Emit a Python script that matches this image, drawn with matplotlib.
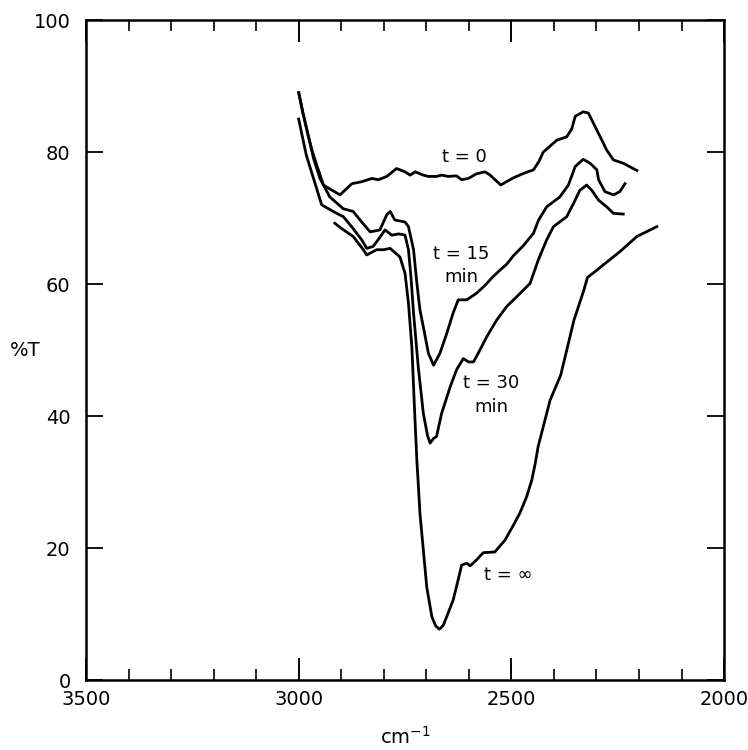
import matplotlib
matplotlib.use("Agg")
import matplotlib.pyplot as plt
from matplotlib.ticker import MultipleLocator
from matplotlib import font_manager

# ---- data ----
t0_x = [3000, 2990, 2978, 2969, 2959, 2942, 2903, 2875, 2852, 2828, 2813, 2793, 2770, 2750, 2738, 2726, 2707,
        2695, 2676, 2664, 2648, 2629, 2617, 2601, 2582, 2562, 2550, 2525, 2495, 2470, 2448, 2435, 2425, 2393,
        2370, 2358, 2350, 2331, 2319, 2299, 2285, 2276, 2260, 2237, 2205]
t0_y = [89.0, 85.9, 82.6, 80.3, 78.3, 75.0, 73.5, 75.2, 75.5, 76.0, 75.8, 76.3, 77.5, 77.0, 76.5, 77.0, 76.5,
        76.3, 76.3, 76.5, 76.3, 76.4, 75.8, 76.0, 76.7, 77.0, 76.5, 75.0, 76.1, 76.8, 77.3, 78.6, 80.0, 81.8,
        82.3, 83.5, 85.4, 86.1, 85.9, 83.3, 81.5, 80.3, 78.8, 78.3, 77.2]

t15_x = [3000, 2990, 2978, 2965, 2950, 2927, 2895, 2872, 2852, 2832, 2809, 2793, 2785, 2774, 2750, 2742, 2730,
         2723, 2715, 2707, 2695, 2683, 2668, 2652, 2637, 2625, 2605, 2582, 2562, 2545, 2527, 2511, 2495, 2472,
         2448, 2436, 2417, 2386, 2366, 2350, 2331, 2315, 2299, 2295, 2280, 2260, 2245, 2233]
t15_y = [89.0, 85.9, 82.6, 79.0, 76.0, 73.2, 71.4, 71.0, 69.4, 67.9, 68.2, 70.5, 71.0, 69.7, 69.4, 68.7, 65.2,
         60.6, 56.1, 53.5, 49.5, 47.7, 49.5, 52.5, 55.6, 57.6, 57.6, 58.6, 59.8, 61.0, 62.1, 63.0, 64.3, 65.8,
         67.7, 69.7, 71.7, 73.2, 75.0, 77.8, 78.9, 78.3, 77.3, 75.8, 74.0, 73.5, 74.0, 75.2]

t30_x = [3000, 2992, 2982, 2970, 2958, 2946, 2919, 2895, 2872, 2852, 2840, 2825, 2810, 2797, 2781, 2765, 2750,
         2742, 2736, 2730, 2719, 2707, 2697, 2691, 2683, 2676, 2664, 2644, 2629, 2613, 2601, 2589, 2574, 2558,
         2535, 2511, 2487, 2456, 2437, 2417, 2401, 2370, 2354, 2339, 2323, 2311, 2295, 2276, 2260, 2237]
t30_y = [85.0, 82.5, 79.5, 77.0, 74.5, 72.0, 71.0, 70.2, 68.4, 66.7, 65.4, 65.7, 67.0, 68.2, 67.4, 67.6, 67.4,
         65.2, 61.0, 55.6, 47.5, 40.4, 37.0, 35.9, 36.6, 36.9, 40.4, 44.4, 47.0, 48.7, 48.2, 48.2, 50.0, 52.0,
         54.5, 56.6, 58.1, 60.1, 63.6, 66.7, 68.7, 70.2, 72.2, 74.2, 75.0, 74.2, 72.7, 71.7, 70.7, 70.6]

tinf_x = [2915, 2899, 2872, 2848, 2840, 2817, 2800, 2785, 2762, 2750, 2742, 2734, 2727, 2722, 2719, 2715, 2707,
          2699, 2687, 2678, 2669, 2660, 2652, 2637, 2625, 2617, 2605, 2597, 2582, 2566, 2539, 2515, 2495, 2480,
          2464, 2452, 2444, 2437, 2425, 2409, 2384, 2353, 2330, 2321, 2303, 2284, 2245, 2205, 2158]
tinf_y = [69.2, 68.4, 67.2, 65.2, 64.4, 65.2, 65.2, 65.4, 64.1, 61.6, 57.1, 50.5, 40.0, 33.0, 29.8, 25.3, 19.7,
          14.1, 9.6, 8.2, 7.7, 8.3, 9.6, 12.1, 15.2, 17.4, 17.7, 17.3, 18.2, 19.3, 19.4, 21.2, 23.5, 25.3,
          27.8, 30.3, 32.8, 35.4, 38.4, 42.4, 46.2, 54.5, 59.0, 61.0, 61.9, 62.9, 64.9, 67.2, 68.7]

curve_labels = ["t = 0", "t = 15\nmin", "t = 30\nmin", "t = \u221e"]
x_ticks = [3500, 3000, 2500, 2000]
y_ticks = [0, 20, 40, 60, 80, 100]

names = {f.name for f in font_manager.fontManager.ttflist}
if "Liberation Sans Narrow" in names:
    plt.rcParams["font.family"] = ["Liberation Sans Narrow", "DejaVu Sans"]
    tick_fs, lab_fs = 16, 15
else:
    plt.rcParams["font.family"] = ["DejaVu Sans"]
    tick_fs, lab_fs = 14, 13

fig = plt.figure(figsize=(7.48, 7.5), dpi=100)
ax = fig.add_axes([0.115, 0.0933, 0.853, 0.880])

lw = 2.0
for xs, ys in [(t0_x, t0_y), (t15_x, t15_y), (t30_x, t30_y), (tinf_x, tinf_y)]:
    ax.plot(xs, ys, color="black", lw=lw, solid_joinstyle="round")

ax.set_xlim(3500, 2000)
ax.set_ylim(0, 100)

for s in ax.spines.values():
    s.set_linewidth(1.8)

ax.set_xticks(x_ticks)
ax.set_xticklabels([str(v) for v in x_ticks])
ax.xaxis.set_minor_locator(MultipleLocator(100))
ax.set_yticks(y_ticks)
ax.set_yticklabels([str(v) for v in y_ticks])

ax.tick_params(axis="x", which="major", direction="in", top=True, bottom=True,
               length=16, width=1.4, labelsize=tick_fs, pad=7)
ax.tick_params(axis="x", which="minor", direction="in", top=True, bottom=True,
               length=8, width=1.2)
ax.tick_params(axis="y", which="major", direction="in", left=True, right=True,
               length=12, width=1.3, labelsize=tick_fs, pad=11)

ax.set_ylabel("%T", fontsize=lab_fs + 1, rotation=0, va="center")
ax.yaxis.set_label_coords(-0.095, 0.5)
ax.set_xlabel("cm$^{-1}$", fontsize=lab_fs + 1, labelpad=12)

ax.text(2611, 79.2, curve_labels[0], fontsize=lab_fs, ha="center", va="center")
ax.text(2618, 62.8, curve_labels[1], fontsize=lab_fs, ha="center", va="center", linespacing=1.4)
ax.text(2548, 43.2, curve_labels[2], fontsize=lab_fs, ha="center", va="center", linespacing=1.4)
ax.text(2507, 15.9, curve_labels[3], fontsize=lab_fs, ha="center", va="center")

fig.savefig("out.png", dpi=100, facecolor="white")
